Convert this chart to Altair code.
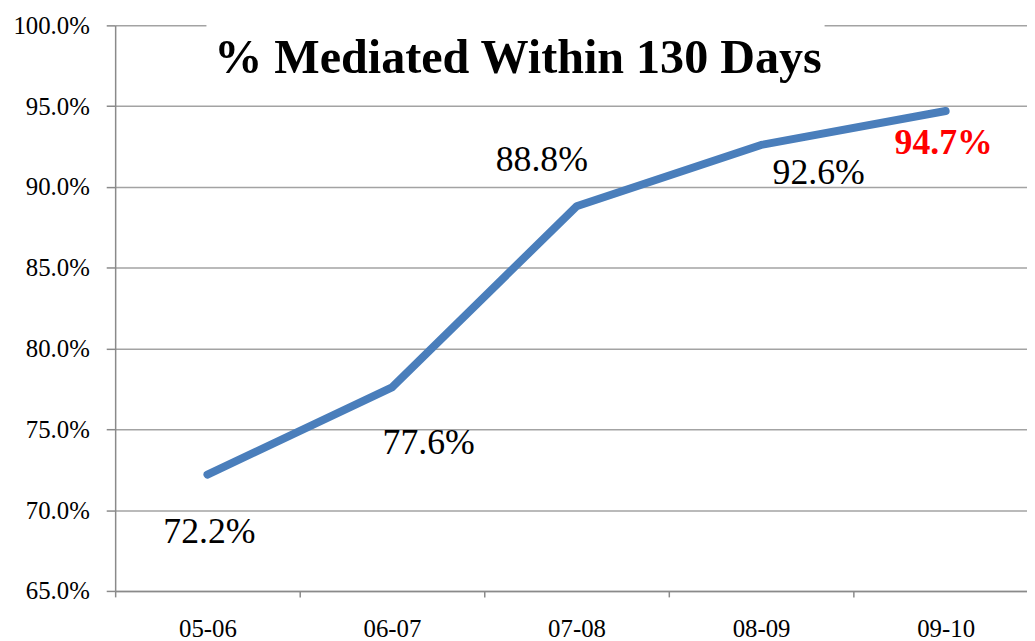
import altair as alt
import pandas as pd

years = ["05-06", "06-07", "07-08", "08-09", "09-10"]
pct = [72.2, 77.6, 88.8, 92.6, 94.7]
labels = ["72.2%", "77.6%", "88.8%", "92.6%", "94.7%"]
y_ticks = [65, 70, 75, 80, 85, 90, 95, 100]
title_text = "% Mediated Within 130 Days"

df = pd.DataFrame({"year": years, "pct": pct, "label": labels})

FONT = "'Liberation Serif', 'Times New Roman', 'DejaVu Serif', serif"
GRID = "#a3a3a3"
AXIS = "#8a8a8a"

x_enc = alt.X(
    "year:N",
    sort=years,
    bandPosition=0.5,
    scale=alt.Scale(type="band", range=[0, 930], paddingInner=0, paddingOuter=0),
    axis=alt.Axis(
        title=None, labelAngle=0, tickBand="extent", grid=False,
        labelFont=FONT, labelFontSize=25, labelColor="black",
        tickSize=6, labelPadding=20, domainColor=AXIS, tickColor=AXIS,
        domainWidth=1.5, tickWidth=1.5,
    ),
)
y_enc = alt.Y(
    "pct:Q",
    scale=alt.Scale(domain=[65, 100], nice=False, zero=False),
    axis=alt.Axis(
        title=None, values=y_ticks,
        labelExpr="format(datum.value, '.1f') + '%'",
        labelFont=FONT, labelFontSize=25, labelColor="black",
        tickSize=9, labelPadding=17, domainColor=AXIS, tickColor=AXIS,
        domainWidth=1.5, tickWidth=1.5,
        grid=True, gridColor=GRID, gridWidth=1.5,
    ),
)

base = alt.Chart(df)

line = base.mark_line(
    color="#4a7ebb", strokeWidth=8, strokeCap="round", strokeJoin="round"
).encode(x=x_enc, y=y_enc)

# per-label offsets (styling of label placement)
offsets = {
    "05-06": (2, 58),
    "06-07": (37, 56),
    "07-08": (-35, -47),
    "08-09": (58, 28),
    "09-10": (-2, 32),
}
label_layers = []
for yr, (dx, dy) in offsets.items():
    last = yr == "09-10"
    label_layers.append(
        base.transform_filter(alt.datum.year == yr)
        .mark_text(
            dx=dx, dy=dy, font=FONT, fontSize=36, align="center", baseline="middle",
            color="#ff0000" if last else "black",
            fontWeight="bold" if last else "normal",
        )
        .encode(x=x_enc, y=y_enc, text="label:N")
    )

title_bg = alt.Chart(pd.DataFrame({"a": [0]})).mark_rect(color="white").encode(
    x=alt.value(92), x2=alt.value(715), y=alt.value(-3), y2=alt.value(6)
)
title = alt.Chart(pd.DataFrame({"t": [title_text]})).mark_text(
    font=FONT, fontSize=48.5, fontWeight="bold", align="center",
    baseline="alphabetic", color="black"
).encode(x=alt.value(406), y=alt.value(48), text="t:N")

chart = alt.layer(title_bg, line, *label_layers, title).properties(
    width=919, height=570,
    autosize=alt.AutoSizeParams(type="none"),
    padding={"left": 108, "top": 15, "right": 0, "bottom": 54},
    background="white",
).configure_view(stroke=None)

chart.save("out.html", embed_options={"renderer": "svg", "actions": False})
